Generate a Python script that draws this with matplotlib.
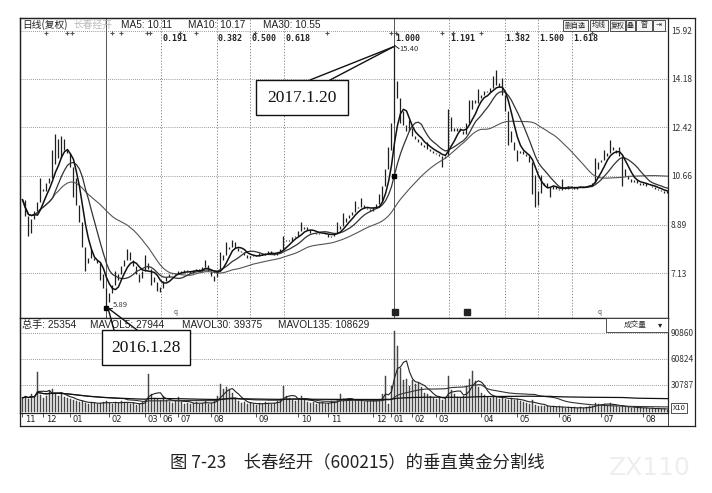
import numpy as np
import pandas as pd
import matplotlib
matplotlib.use('Agg')
import matplotlib.pyplot as plt
from matplotlib.patches import Rectangle
from matplotlib.lines import Line2D
import matplotlib.transforms as mtransforms

plt.rcParams['font.family'] = ['Noto Sans CJK SC', 'DejaVu Sans']

# ---------------- data ----------------
close = [
    9.8, 9.2, 8.8, 9.1, 9.4, 9.7, 10.2, 10.1, 10.4, 10.6,
    11.1, 11.8, 11.3, 11.9, 11.6, 11.5, 11.0, 10.3, 9.6, 9.0,
    8.1, 7.5, 7.7, 7.7, 7.6, 7.5, 7.1, 6.6, 6.1, 6.4,
    6.7, 6.9, 7.1, 7.4, 7.6, 7.75, 7.6, 7.4, 7.1, 6.95,
    7.2, 7.5, 7.3, 7.0, 6.8, 6.65, 6.6, 6.85, 7.0, 7.1,
    7.15, 7.1, 7.2, 7.15, 7.25, 7.2, 7.15, 7.25, 7.3, 7.2,
    7.35, 7.45, 7.2, 7.05, 7.0, 7.2, 7.6, 7.8, 8.0, 8.1,
    8.25, 8.05, 7.95, 7.9, 7.8, 7.7, 7.75, 7.8, 7.75, 7.85,
    7.8, 7.85, 7.95, 7.85, 7.8, 7.9, 8.0, 8.3, 8.35, 8.3,
    8.45, 8.5, 8.65, 8.75, 8.8, 8.7, 8.6, 8.6, 8.55, 8.6,
    8.6, 8.55, 8.45, 8.5, 8.6, 8.75, 8.85, 9.0, 9.15, 9.25,
    9.35, 9.5, 9.55, 9.6, 9.5, 9.45, 9.4, 9.55, 9.65, 9.7,
    10.3, 10.9, 11.7, 12.6, 13.8, 13.5, 13.0, 12.5, 12.3, 12.4,
    12.1, 12.0, 11.9, 11.8, 11.7, 11.65, 11.55, 11.5, 11.45, 11.4,
    11.3, 11.4, 12.3, 12.4, 12.3, 12.4, 12.3, 12.2, 12.6, 13.1,
    13.4, 13.3, 13.5, 13.6, 13.75, 13.7, 13.85, 13.95, 14.05, 13.9,
    13.6, 13.0, 12.3, 11.9, 11.6, 11.5, 11.55, 11.45, 11.4, 11.15,
    10.7, 10.1, 10.05, 10.35, 10.4, 10.25, 10.2, 10.3, 10.2, 10.15,
    10.25, 10.2, 10.3, 10.25, 10.2, 10.25, 10.3, 10.25, 10.3, 10.35,
    10.4, 10.9, 11.15, 11.25, 11.4, 11.5, 11.7, 11.6, 11.5, 11.4,
    10.9, 10.65, 10.55, 10.45, 10.5, 10.4, 10.35, 10.4, 10.3, 10.3,
    10.25, 10.2, 10.15, 10.1, 10.05, 10.1,
]

volume = [
    16000, 18000, 15000, 20000, 17000, 46000, 19000, 16000, 18000, 24000,
    26000, 22000, 18000, 20000, 17000, 16000, 15000, 13000, 12000, 11000,
    12000, 10000, 9000, 11000, 10000, 9000, 10000, 11000, 12000, 10000,
    9000, 11000, 10000, 12000, 11000, 10000, 9000, 10000, 8000, 9000,
    11000, 13000, 44000, 20000, 16000, 15000, 14000, 18000, 13000, 11000,
    10000, 12000, 17000, 11000, 9000, 10000, 9000, 10000, 11000, 9000,
    10000, 12000, 9000, 10000, 12000, 18000, 32000, 26000, 28000, 25000,
    22000, 15000, 12000, 10000, 11000, 9000, 10000, 9000, 8000, 10000,
    9000, 11000, 10000, 9000, 10000, 12000, 15000, 30000, 18000, 16000,
    14000, 12000, 13000, 18000, 14000, 11000, 10000, 11000, 9000, 10000,
    11000, 9000, 10000, 12000, 11000, 14000, 20000, 15000, 13000, 14000,
    12000, 13000, 14000, 12000, 11000, 12000, 13000, 14000, 12000, 15000,
    20000, 41000, 9000, 30000, 93000, 76000, 50000, 36000, 38000, 30000,
    36000, 32000, 33000, 28000, 22000, 20000, 18000, 16000, 15000, 17000,
    14000, 16000, 41000, 25000, 20000, 17000, 16000, 18000, 30000, 38000,
    47000, 35000, 28000, 22000, 19000, 17000, 16000, 18000, 17000, 15000,
    16000, 15000, 14000, 16000, 13000, 15000, 12000, 11000, 10000, 9000,
    14000, 8000, 7000, 6000, 7000, 6000, 5000, 6000, 5000, 6000,
    5000, 4000, 5000, 4000, 5000, 4000, 5000, 4000, 5000, 6000,
    7000, 10000, 9000, 8000, 9000, 8000, 10000, 7000, 6000, 5000,
    7000, 6000, 5000, 4000, 5000, 4000, 5000, 4000, 4000, 3000,
    4000, 3000, 4000, 3000, 3000, 2500,
]

# intraday extremes that stick out of the close-to-close range
high_idx = [6, 10, 11, 12, 13, 14, 18, 20, 23, 31, 35, 36, 41, 61, 66, 68, 70, 87, 93,
            105, 107, 111, 113, 119, 124, 125, 129, 135, 142, 143, 149, 152, 157, 158,
            160, 173, 180, 191, 194, 196, 199]
high_val = [10.6, 11.6, 12.2, 12.0, 12.1, 12.0, 10.6, 8.6, 8.0, 7.2, 8.0, 7.9, 7.8, 7.6,
            7.9, 8.25, 8.35, 8.5, 9.0, 9.0, 9.3, 9.75, 9.85, 10.0, 15.40, 14.1, 12.7, 11.9,
            13.1, 12.8, 13.4, 13.8, 14.3, 14.5, 14.2, 10.7, 10.55, 11.3, 11.6, 11.95, 11.7]
low_idx = [2, 3, 17, 21, 26, 28, 39, 43, 45, 46, 64, 122, 123, 126, 140, 162, 165,
           170, 171, 172, 176, 200]
low_val = [8.5, 8.6, 9.9, 7.2, 6.9, 5.89, 6.8, 6.7, 6.5, 6.45, 6.85, 10.9, 11.6, 12.6,
           11.0, 11.8, 11.2, 10.0, 9.55, 9.6, 9.9, 10.3]

month_labels = ['11', '12', '01', '02', '03', '06', '07', '08', '09', '10',
                '11', '12', '01', '02', '03', '04', '05', '06', '07', '08']
month_pos = [0, 7, 16, 29, 41, 46, 52, 63, 78, 92, 102, 117, 123, 130, 138, 153, 165, 179, 193, 207]

price_ticks = [15.92, 14.18, 12.42, 10.66, 8.89, 7.13]
price_tick_labels = ['15.92', '14.18', '12.42', '10.66', '8.89', '7.13']
vol_ticks = [90860, 60824, 30787]
vol_tick_labels = ['90860', '60824', '30787']

fib_start = 28   # 2016.1.28 low
fib_end = 124    # 2017.1.20 high
fib_ratios = [0.191, 0.382, 0.5, 0.618, 1.0, 1.191, 1.382, 1.5, 1.618]
fib_labels = ['0.191', '0.382', '0.500', '0.618', '1.000', '1.191', '1.382', '1.500', '1.618']

info_marks = [8, 15, 16.5, 30, 33, 41.5, 42.5, 52.5, 58, 77.5, 101.5, 123, 124.5, 140, 143.5, 153, 165, 190]

header_price = ['MA5: 10.11', 'MA10: 10.17', 'MA30: 10.55']
header_vol = ['总手: 25354', 'MAVOL5: 27944', 'MAVOL30: 39375', 'MAVOL135: 108629']

# ---------------- figure ----------------
W, H = 712, 493
fig = plt.figure(figsize=(W / 100, H / 100), dpi=100)
fig.patch.set_facecolor('white')

def fx(x):
    return x / W

def fy(y):
    return 1 - y / H

L, R = 20, 668
TOP, MID, BOT = 18, 318, 413
axp = fig.add_axes([fx(L), fy(MID), (R - L) / W, (MID - TOP) / H])
axv = fig.add_axes([fx(L), fy(BOT), (R - L) / W, (BOT - MID) / H])

n = len(close)
idx = np.arange(n)
c = np.array(close, dtype=float)
o = np.r_[c[0], c[:-1]]
hi = np.maximum(o, c)
lo = np.minimum(o, c)
for k, v in zip(high_idx, high_val):
    hi[k] = max(hi[k], v)
for k, v in zip(low_idx, low_val):
    lo[k] = min(lo[k], v)

xlim = (-0.83, 215.17)
for ax in (axp, axv):
    ax.set_xlim(*xlim)
    ax.set_facecolor('white')
    for s in ax.spines.values():
        s.set_linewidth(0.9)
        s.set_color('#222222')

# price panel
axp.set_ylim(5.51, 16.39)
for t in price_ticks:
    axp.axhline(t, color='#777777', lw=0.6, ls=(0, (1, 1.5)), zorder=1)
axp.set_yticks(price_ticks)
axp.set_yticklabels(price_tick_labels)
axp.yaxis.tick_right()
axp.tick_params(axis='y', length=0, pad=2, labelsize=6, labelcolor='#333333')
axp.set_xticks([])

# golden section vertical lines
axp.axvline(fib_start, color='#555555', lw=0.7, zorder=1)
blend = mtransforms.blended_transform_factory(axp.transData, axp.transAxes)
for r, lab in zip(fib_ratios, fib_labels):
    xf = fib_start + r * (fib_end - fib_start)
    if r == 1.0:
        axp.axvline(xf, color='#555555', lw=0.7, zorder=1)
    else:
        axp.axvline(xf, color='#777777', lw=0.6, ls=(0, (1.5, 2)), zorder=1)
    axp.text(xf + 0.3, 0.932, lab, transform=blend, fontsize=6, fontweight='bold',
             family='DejaVu Sans Mono', color='#222222', va='center', ha='left')

axp.vlines(idx, lo, hi, color='#1e1e1e', lw=0.9, zorder=3)
s = pd.Series(c)
ma5 = s.rolling(5, min_periods=1).mean()
ma10 = s.rolling(10, min_periods=1).mean()
ma30 = s.rolling(30, min_periods=1).mean()
axp.plot(idx, ma30, color='#555555', lw=0.8, zorder=4)
axp.plot(idx, ma10, color='#333333', lw=0.9, zorder=4)
axp.plot(idx, ma5, color='#111111', lw=1.1, zorder=5)

# info marks on the top row
axp.plot(info_marks, [0.95] * len(info_marks), transform=blend, ls='none', marker='+',
         ms=3, mew=0.8, color='#555555', clip_on=False)

# extreme markers
axp.plot([fib_start], [low_val[5]], marker='s', ms=3.5, color='black', zorder=6)
axp.plot([fib_start, fib_start + 2], [low_val[5]] * 2, color='black', lw=0.6, zorder=6)
axp.text(fib_start + 2.2, low_val[5] + 0.1, '5.89', fontsize=5.5, color='#333333', va='center')
axp.plot([fib_end, fib_end + 1.5], [15.40, 15.28], color='black', lw=0.6, zorder=6)
axp.text(fib_end + 1.7, 15.26, '15.40', fontsize=5.5, color='#333333', va='center')
axp.plot([fib_end], [10.66], marker='s', ms=3, color='black', zorder=6)

# small news icons at bottom of price panel
for xi in (124.3, 148.3):
    axp.plot([xi], [0.02], transform=blend, marker='s', ms=4.5, color='#222222', clip_on=False)
for xi in (51, 192.5):
    axp.text(xi, 0.02, 'q', transform=blend, fontsize=4.5, color='#444444', ha='center', va='center')

# volume panel
axv.set_ylim(-1500, 108000)
for t in vol_ticks:
    axv.axhline(t, color='#777777', lw=0.6, ls=(0, (1, 1.5)), zorder=1)
axv.bar(idx, volume, width=0.55, color='#555555', edgecolor='#333333', lw=0.3, zorder=2)
v = pd.Series(np.array(volume, dtype=float))
axv.plot(idx, v.rolling(5, min_periods=1).mean(), color='#222222', lw=0.8, zorder=3)
axv.plot(idx, v.rolling(30, min_periods=1).mean(), color='#333333', lw=0.8, zorder=3)
axv.plot(idx, v.rolling(135, min_periods=1).mean(), color='#111111', lw=0.9, zorder=3)
axv.set_yticks(vol_ticks)
axv.set_yticklabels(vol_tick_labels)
axv.yaxis.tick_right()
axv.tick_params(axis='y', length=0, pad=2, labelsize=6, labelcolor='#333333')
axv.set_xticks(month_pos)
axv.set_xticklabels([''] * len(month_pos))
axv.tick_params(axis='x', length=3, width=0.6, direction='out', color='#333333')
bl = mtransforms.blended_transform_factory(axv.transData, fig.transFigure)
for p, lab in zip(month_pos, month_labels):
    axv.text(p + 0.8, fy(419.5), lab, transform=bl, fontsize=6, ha='left', va='center',
             color='#222222', family='DejaVu Sans')

# outer frame and right strip
def fline(x0, y0, x1, y1, lw=0.9, color='#222222'):
    fig.add_artist(Line2D([fx(x0), fx(x1)], [fy(y0), fy(y1)], transform=fig.transFigure,
                          lw=lw, color=color))

fline(L, TOP, 695, TOP)
fline(695, TOP, 695, 426)
fline(L, 426, 695, 426)
fline(L, TOP, L, 426)
fline(R, 413, R, 426, lw=0.6)

# X10 box
fig.text(fx(679), fy(408), 'X10', fontsize=5.5, ha='center', va='center', color='#222222',
         bbox=dict(boxstyle='square,pad=0.15', fc='white', ec='#333333', lw=0.6))

# header of price panel
fig.text(fx(22), fy(25), '日线(复权)', fontsize=7, ha='left', va='center', color='#222222')
fig.text(fx(74), fy(25), '长春经开', fontsize=7, ha='left', va='center', color='#bbbbbb')
for xx, t in zip([121, 188, 263], header_price):
    fig.text(fx(xx), fy(25), t, fontsize=7.3, ha='left', va='center', color='#222222',
             family='Liberation Sans')

# buttons on the top right
buttons = [('删自选', 563, 588), ('均线', 590, 608), ('复权', 610, 625), ('叠', 626, 635),
           ('窗', 636, 652), ('⇥', 653, 665)]
for t, x0, x1 in buttons:
    fig.add_artist(Rectangle((fx(x0), fy(31)), (x1 - x0) / W, 11 / H, transform=fig.transFigure,
                             fc='#f4f4f4', ec='#333333', lw=0.6))
    fig.text(fx((x0 + x1) / 2), fy(25.5), t, fontsize=5, ha='center', va='center',
             color='#222222', family=['Noto Sans CJK SC', 'DejaVu Sans'])

# header of volume panel
for xx, t in zip([22, 90, 182, 278], header_vol):
    fig.text(fx(xx), fy(325), t, fontsize=7.3, ha='left', va='center', color='#222222',
             family=['Liberation Sans', 'Noto Sans CJK SC'])

# 成交量 selector
fig.add_artist(Rectangle((fx(606), fy(332)), 62 / W, 14 / H, transform=fig.transFigure,
                         fc='white', ec='#333333', lw=0.6))
fig.text(fx(635), fy(325), '成交量', fontsize=5.5, ha='center', va='center', color='#333333')
fig.text(fx(660), fy(325), '▾', fontsize=6, ha='center', va='center', color='#222222',
         family='DejaVu Sans')

# callouts
def callout(x0, y0, x1, y1, text, gap, tip):
    fig.add_artist(Rectangle((fx(x0), fy(y1)), (x1 - x0) / W, (y1 - y0) / H,
                             transform=fig.transFigure, fc='white', ec='#111111', lw=1.0, zorder=10))
    fline(gap[0], y0, gap[1], y0, lw=1.6, color='white')
    for gx in gap:
        fig.add_artist(Line2D([fx(gx), fx(tip[0])], [fy(y0), fy(tip[1])], transform=fig.transFigure,
                              lw=1.0, color='#111111', zorder=11))
    fig.text(fx((x0 + x1) / 2), fy((y0 + y1) / 2 + 1), text, fontsize=12.5, ha='center',
             va='center', family='Liberation Serif', color='#111111', zorder=12)

callout(256, 80, 348, 115, '2017.1.20', (310, 330), (393, 47))
callout(102, 330, 190, 365, '2016.1.28', (114, 137), (108, 308))

# caption
fig.text(fx(357), fy(462), '图 7-23　长春经开（600215）的垂直黄金分割线', fontsize=12.5,
         ha='center', va='center', color='#222222')
fig.text(fx(650), fy(468), 'ZX110', fontsize=18, ha='center', va='center', color='#eeeeee',
         family='DejaVu Sans')

fig.savefig('out.png', dpi=100, facecolor='white')
